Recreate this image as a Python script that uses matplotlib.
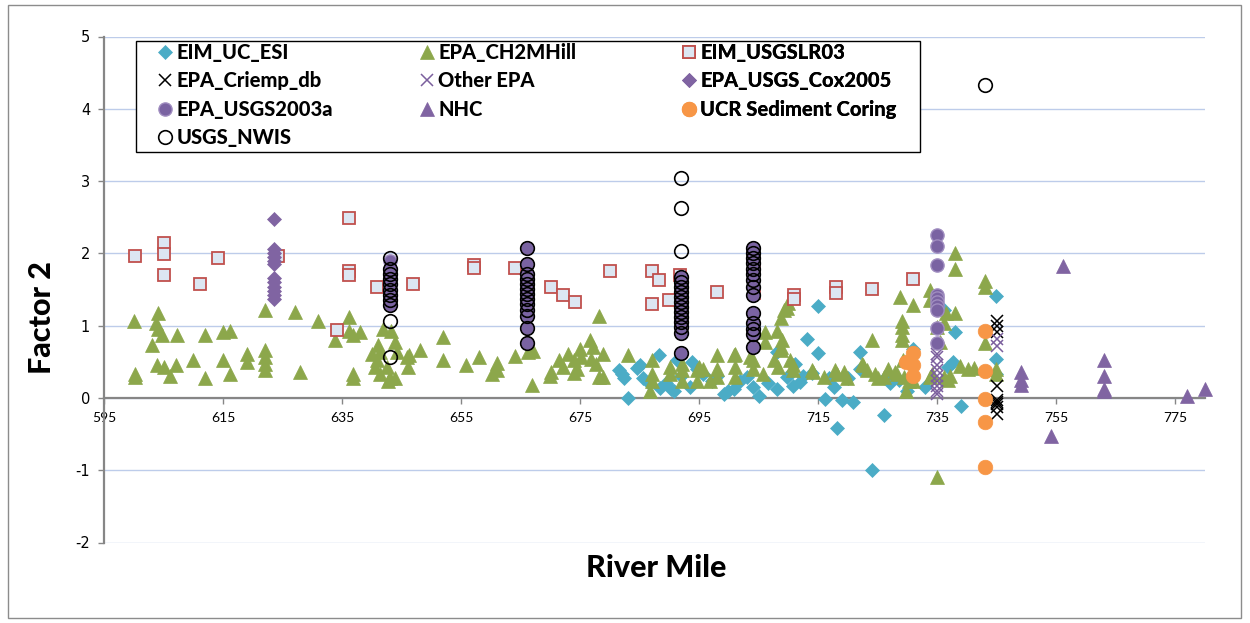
import matplotlib
matplotlib.use("Agg")
import matplotlib.pyplot as plt
from matplotlib.patches import Rectangle

plt.rcParams["font.family"] = ["Lato", "DejaVu Sans"]

# ---------------- data ----------------
esi_x = [681.5, 682.0, 682.3, 683.1, 684.6, 685.1, 685.6, 686.5, 688.2, 688.4, 689.5, 690.2,
         690.7, 691.2, 692.0, 693.5, 693.8, 694.6, 695.7, 697.1, 698.0, 699.1, 699.8, 700.8,
         701.9, 703.0, 704.0, 705.0, 706.5, 708.1, 708.1, 709.7, 710.8, 711.1, 712.0, 712.5,
         713.1, 714.0, 715.0, 715.0, 716.1, 716.8, 717.6, 718.1, 719.0, 720.0, 720.9, 722.0,
         722.1, 724.0, 726.0, 726.5, 727.1, 728.5, 730.0, 731.0, 733.0, 736.2, 736.9, 737.7,
         738.0, 739.0, 744.8, 744.8, 744.8]
esi_y = [0.38, 0.33, 0.27, 0.00, 0.41, 0.45, 0.27, 0.20, 0.59, 0.14, 0.20, 0.12,
         0.10, 0.52, 0.30, 0.15, 0.50, 0.40, 0.33, 0.24, 0.30, 0.06, 0.10, 0.12,
         0.24, 0.29, 0.15, 0.03, 0.20, 0.63, 0.13, 0.29, 0.17, 0.47, 0.22, 0.30,
         0.82, 0.35, 1.27, 0.62, -0.01, 0.27, 0.15, -0.41, -0.03, 0.28, -0.06, 0.40,
         0.63, -1.00, -0.23, 0.30, 0.20, 0.25, 0.10, 0.68, 0.15, 1.22, 0.43, 0.50,
         0.91, -0.11, 1.41, 0.54, 0.33]

ch2m_x = [600.1, 600.2, 600.2, 604.1, 603.8, 604.1, 604.7, 603.0, 607.2, 603.9, 605.0, 606.1,
          607.1, 610.0, 612.0, 612.0, 615.0, 615.0, 616.2, 616.1, 619.0, 619.0, 622.1, 622.1,
          622.1, 622.1, 622.1, 627.1, 628.0, 631.0, 633.8, 636.1, 636.1, 636.9, 638.0, 636.9,
          636.9, 640.0, 641.1, 641.9, 643.3, 643.9, 644.2, 641.4, 640.8, 640.5, 641.4, 642.5,
          643.1, 643.9, 642.8, 645.9, 646.1, 646.2, 648.1, 652.0, 652.0, 655.9, 658.0, 660.2,
          661.0, 661.0, 664.1, 666.3, 667.1, 667.0, 670.1, 670.0, 671.4, 672.2, 673.0, 673.9,
          673.9, 674.4, 675.0, 675.2, 676.7, 677.2, 676.9, 677.6, 678.1, 678.1, 678.9, 678.9,
          683.1, 687.0, 687.0, 687.0, 686.8, 690.1, 690.1, 692.2, 692.2, 692.2, 694.6, 694.6,
          694.9, 695.7, 696.8, 698.0, 698.0, 698.0, 700.8, 701.0, 701.0, 701.0, 703.6, 704.1,
          704.1, 705.8, 706.1, 706.1, 708.1, 708.3, 708.7, 708.9, 709.2, 709.7, 710.0, 708.7,
          708.7, 707.5, 710.3, 710.8, 710.8, 713.9, 714.2, 715.9, 717.9, 718.1, 719.3, 719.8,
          722.3, 722.6, 723.2, 724.0, 724.6, 725.1, 726.0, 726.8, 727.9, 728.2, 728.8, 729.1,
          729.1, 729.1, 729.1, 731.0, 729.3, 729.5, 729.7, 730.2, 731.0, 733.8, 733.8, 733.8,
          734.1, 734.9, 735.0, 735.5, 736.4, 736.1, 736.1, 736.9, 737.2, 738.0, 738.0, 738.0,
          738.9, 740.2, 741.2, 743.1, 743.1, 743.1, 744.8, 744.8]
ch2m_y = [1.07, 0.33, 0.29, 1.17, 1.03, 0.96, 0.87, 0.73, 0.87, 0.46, 0.43, 0.31,
          0.45, 0.52, 0.28, 0.87, 0.52, 0.91, 0.92, 0.33, 0.61, 0.50, 1.21, 0.66,
          0.56, 0.47, 0.38, 1.19, 0.36, 1.07, 0.80, 1.12, 0.93, 0.87, 0.91, 0.33,
          0.27, 0.61, 0.73, 0.96, 0.93, 0.77, 0.63, 0.63, 0.52, 0.43, 0.33, 0.43,
          0.27, 0.27, 0.24, 0.57, 0.43, 0.59, 0.66, 0.84, 0.52, 0.45, 0.56, 0.33,
          0.48, 0.38, 0.58, 0.63, 0.65, 0.18, 0.36, 0.30, 0.52, 0.43, 0.61, 0.52,
          0.34, 0.40, 0.68, 0.57, 0.80, 0.70, 0.54, 0.47, 1.13, 0.29, 0.61, 0.29,
          0.59, 0.52, 0.33, 0.24, 0.10, 0.43, 0.33, 0.47, 0.38, 0.24, 0.38, 0.24,
          0.43, 0.40, 0.24, 0.59, 0.40, 0.29, 0.59, 0.61, 0.43, 0.29, 0.57, 0.52,
          0.40, 0.33, 0.91, 0.77, 0.93, 0.43, 1.11, 0.80, 1.21, 1.24, 1.32, 0.70,
          0.66, 0.52, 0.52, 0.38, 0.45, 0.38, 0.36, 0.29, 0.38, 0.33, 0.36, 0.27,
          0.47, 0.45, 0.38, 0.80, 0.33, 0.27, 0.29, 0.40, 0.36, 0.33, 1.40, 1.07,
          0.98, 0.87, 0.80, 1.28, 0.52, 0.29, 0.10, 0.24, 0.24, 1.50, 1.36, 0.29,
          0.33, -1.09, 0.98, 0.78, 1.17, 1.03, 0.29, 0.25, 0.30, 2.00, 1.78, 1.18,
          0.44, 0.40, 0.42, 1.62, 1.54, 0.76, 0.40, 0.33]

lr03_x = [600.2, 605.1, 605.1, 605.1, 611.1, 614.1, 624.3, 636.1, 636.1, 636.1, 634.1, 640.9,
          647.0, 657.1, 657.1, 664.1, 670.1, 672.1, 674.1, 680.0, 687.0, 688.2, 687.0, 690.0,
          691.8, 698.0, 704.2, 704.2, 711.0, 711.0, 718.0, 718.0, 724.0, 731.0]
lr03_y = [1.97, 2.14, 1.99, 1.70, 1.58, 1.93, 1.97, 2.49, 1.75, 1.70, 0.94, 1.53,
          1.58, 1.84, 1.80, 1.80, 1.54, 1.43, 1.33, 1.76, 1.76, 1.63, 1.30, 1.35,
          1.70, 1.47, 1.80, 1.45, 1.43, 1.37, 1.54, 1.45, 1.51, 1.64]

criemp_x = [745.0, 745.0, 745.0, 745.0, 745.0, 745.0, 745.0, 745.0, 745.0]
criemp_y = [1.06, 0.99, 0.91, 0.16, -0.03, -0.06, -0.09, -0.12, -0.22]

other_x = [745.0, 745.0, 735.0, 735.0, 735.0, 735.0, 735.0, 735.0, 735.0, 735.0, 735.0]
other_y = [0.82, 0.72, 0.61, 0.56, 0.45, 0.38, 0.31, 0.24, 0.17, 0.10, 0.05]

cox_x = [623.5] * 12
cox_y = [2.48, 2.06, 2.00, 1.95, 1.90, 1.85, 1.66, 1.60, 1.54, 1.48, 1.42, 1.37]

usgs03_x = ([643.1] * 9 + [666.1] * 13 + [692.0] * 13 + [704.0] * 14 + [735.0] * 10)
usgs03_y = [1.90, 1.78, 1.71, 1.64, 1.57, 1.50, 1.43, 1.36, 1.28,
            2.07, 1.85, 1.72, 1.65, 1.58, 1.51, 1.44, 1.37, 1.30, 1.22, 1.14, 0.97, 0.76,
            1.67, 1.60, 1.53, 1.47, 1.40, 1.33, 1.26, 1.19, 1.12, 1.05, 0.98, 0.90, 0.62,
            2.08, 2.00, 1.93, 1.86, 1.79, 1.72, 1.63, 1.53, 1.43, 1.17, 1.03, 0.96, 0.89, 0.70,
            2.26, 2.10, 1.84, 1.43, 1.38, 1.33, 1.27, 1.22, 0.97, 0.76]

nhc_x = [749.1, 749.1, 749.1, 754.1, 756.1, 763.0, 763.0, 763.0, 763.0, 777.0, 780.0]
nhc_y = [0.36, 0.25, 0.18, -0.53, 1.82, 0.53, 0.30, 0.13, 0.10, 0.02, 0.13]

ucr_x = [729.8, 730.9, 730.9, 730.9, 743.0, 743.0, 743.0, 743.0, 743.0]
ucr_y = [0.50, 0.62, 0.45, 0.30, 0.92, 0.37, -0.02, -0.33, -0.95]

nwis_x = ([643.1] * 11 + [666.1] * 13 + [692.0] * 16 + [704.0] * 14 + [743.0])
nwis_y = [1.93, 1.78, 1.71, 1.64, 1.57, 1.50, 1.43, 1.36, 1.28, 1.06, 0.57,
          2.07, 1.85, 1.72, 1.65, 1.58, 1.51, 1.44, 1.37, 1.30, 1.22, 1.14, 0.97, 0.76,
          3.04, 2.63, 2.03, 1.67, 1.60, 1.53, 1.47, 1.40, 1.33, 1.26, 1.19, 1.12, 1.05, 0.98, 0.90, 0.62,
          2.08, 2.00, 1.93, 1.86, 1.79, 1.72, 1.63, 1.53, 1.43, 1.17, 1.03, 0.96, 0.89, 0.70,
          4.33]

x_ticks = [595, 615, 635, 655, 675, 695, 715, 735, 755, 775]
y_ticks = [-2, -1, 0, 1, 2, 3, 4, 5]

# ---------------- figure ----------------
W, H = 1250, 623
fig = plt.figure(figsize=(W / 100, H / 100), dpi=100)
ax = fig.add_axes([104 / W, (H - 542.5) / H, (1205 - 104) / W, (542.5 - 36.5) / H])

axis_gray = "#868686"
common = dict(linestyle="none", clip_on=False)

h_esi, = ax.plot(esi_x, esi_y, marker="D", ms=7.0, mfc="#4BACC6", mec="#4BACC6", mew=0.5,
                 label="EIM_UC_ESI", **common)
h_ch2m, = ax.plot(ch2m_x, ch2m_y, marker="^", ms=10, mfc="#8CA74B", mec="#8CA74B", mew=0.5,
                  label="EPA_CH2MHill", **common)
h_lr03, = ax.plot(lr03_x, lr03_y, marker="s", ms=9.2, mfc="#DCE6F2", mec="#C0504D", mew=1.3,
                  label="EIM_USGSLR03", **common)
h_criemp, = ax.plot(criemp_x, criemp_y, marker="x", ms=8, mec="black", mew=1.1,
                    label="EPA_Criemp_db", **common)
h_other, = ax.plot(other_x, other_y, marker="x", ms=8, mec="#7B5F9E", mew=1.1,
                   label="Other EPA", **common)
h_cox, = ax.plot(cox_x, cox_y, marker="D", ms=7.0, mfc="#8064A2", mec="#8064A2", mew=0.5,
                 label="EPA_USGS_Cox2005", **common)
h_usgs03, = ax.plot(usgs03_x, usgs03_y, marker="o", ms=9.5, mfc="#7A63A2", mec="#A08DC0", mew=1.0,
                    label="EPA_USGS2003a", **common)
h_nhc, = ax.plot(nhc_x, nhc_y, marker="^", ms=10, mfc="#8064A2", mec="#8064A2", mew=0.5,
                 label="NHC", **common)
h_ucr, = ax.plot(ucr_x, ucr_y, marker="o", ms=10.5, mfc="#F79646", mec="#F79646", mew=0.5,
                 label="UCR Sediment Coring", **common)
h_nwis, = ax.plot(nwis_x, nwis_y, marker="o", ms=9.8, mfc="none", mec="black", mew=1.2,
                  label="USGS_NWIS", **common)

ax.set_xlim(595, 780)
ax.set_ylim(-2, 5)
ax.set_xticks(x_ticks)
ax.set_yticks(y_ticks)
ax.set_xticklabels([str(v) for v in x_ticks], family="DejaVu Sans", fontsize=10.5)
ax.set_yticklabels([str(v) for v in y_ticks], family="DejaVu Sans", fontsize=10.5)
ax.set_axisbelow(True)
ax.yaxis.grid(True, color="#BDCCEA", lw=1.0)

for side in ("top", "right"):
    ax.spines[side].set_visible(False)
ax.spines["bottom"].set_position(("data", 0))
for side in ("left", "bottom"):
    ax.spines[side].set_color(axis_gray)
    ax.spines[side].set_linewidth(1.6)
    ax.spines[side].set_zorder(1.5)
ax.tick_params(axis="x", direction="out", length=4, width=1, color=axis_gray, pad=6,
               labelcolor="black")
ax.tick_params(axis="y", direction="out", length=4, width=1, color=axis_gray, pad=6,
               labelcolor="black")

fig.text(656 / W, 1 - 568 / H, "River Mile", ha="center", va="center",
         fontsize=22, fontweight="black")
fig.text(42 / W, 1 - 318 / H, "Factor 2", ha="center", va="center", rotation=90,
         fontsize=22, fontweight="black")

# legend: white box with three columns of entries
frame = Rectangle((136 / W, 1 - 152 / H), (920 - 136) / W, (152 - 41) / H,
                  transform=fig.transFigure, facecolor="white", edgecolor="black",
                  lw=1.0, zorder=10, clip_on=False)
ax.add_artist(frame)

columns = [
    ([h_esi, h_criemp, h_usgs03, h_nwis], 165),
    ([h_ch2m, h_other, h_nhc], 427),
    ([h_lr03, h_cox, h_ucr], 689),
]
fs = 14.5
handle_len = 14.0 / (fs * 100 / 72)
for handles, cx in columns:
    half = 7.0
    leg = ax.legend(handles=handles, loc="upper left",
                    bbox_to_anchor=((cx - half) / W, 1 - 43 / H),
                    bbox_transform=fig.transFigure, frameon=False, numpoints=1,
                    handlelength=handle_len, handletextpad=0.22, labelspacing=0.47,
                    borderpad=0, borderaxespad=0,
                    prop=dict(family="Lato", weight="black", size=fs))
    leg.set_zorder(11)
    ax.add_artist(leg)

# outer chart border
fig.add_artist(Rectangle((8 / W, 1 - 618 / H), (1241 - 8) / W, (618 - 5) / H,
                         transform=fig.transFigure, facecolor="none",
                         edgecolor="#8C8C8C", lw=1.0))

fig.savefig("out.png", dpi=100)
